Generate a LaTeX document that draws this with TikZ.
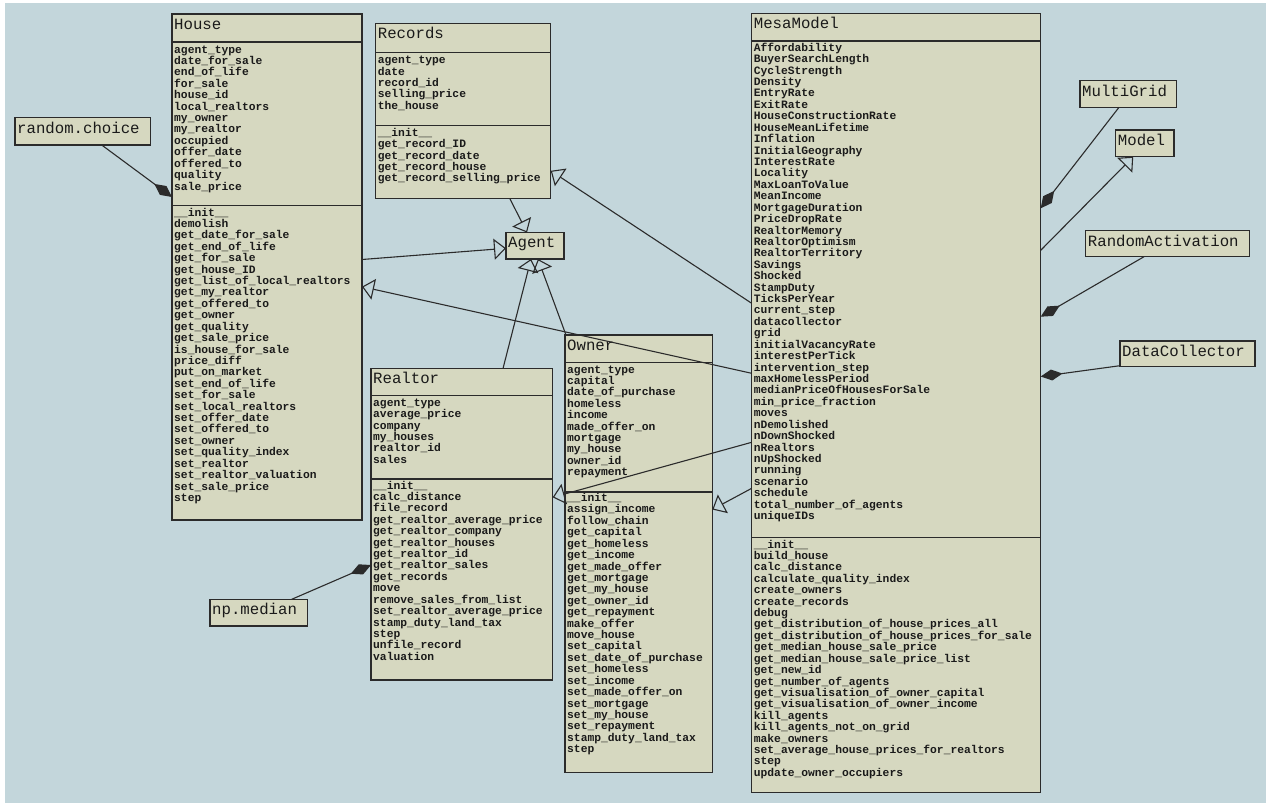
\documentclass[tikz,border=0pt]{standalone}
\usepackage{fontspec}
\setmonofont{Liberation Mono}
\usetikzlibrary{arrows.meta}
\definecolor{bgc}{HTML}{C3D6DB}
\definecolor{boxc}{HTML}{D6D8C0}
\definecolor{linec}{HTML}{2B2B2B}
\definecolor{txtc}{HTML}{1A1A1A}
\tikzset{
  cls/.style={draw=linec, fill=boxc, line width=1.2pt, inner sep=0pt, outer sep=0pt, anchor=north west},
  ttl/.style={anchor=base west, inner sep=0pt, font=\fontsize{15.7}{16}\selectfont\ttfamily, text=txtc},
  mem/.style={anchor=base west, inner sep=0pt, font=\fontsize{11.3}{11.4}\selectfont\ttfamily\bfseries, text=txtc},
  sepline/.style={draw=linec, line width=1.2pt},
  inh/.style={draw=linec, line width=1.1pt, -{Triangle[open,length=12pt,width=21pt,line width=1.1pt]}},
  comp/.style={draw=linec, line width=1.1pt, -{Diamond[length=22pt,width=11pt]}},
}
% #1 name, #2 x, #3 y, #4 w, #5 h, #6 title, #7 header line y, #8 separator y
\newcommand\classbox[8]{%
  \node[cls, minimum width=#4pt, minimum height=#5pt] (#1) at (#2,#3) {};
  \draw[sepline] (#1.west |- 0,#7) -- (#1.east |- 0,#7);
  \draw[sepline] (#1.west |- 0,#8) -- (#1.east |- 0,#8);
  \node[ttl] (#1-title) at (#2+2,#3+15.3) {#6};
}
% #1 name, #2 x, #3 y, #4 w, #5 h, #6 label
\newcommand\smallbox[6]{%
  \node[cls, minimum width=#4pt, minimum height=#5pt] (#1) at (#2,#3) {};
  \node[ttl] (#1-label) at (#2+2,#3+15.3) {#6};
}
% #1 prefix, #2 x, #3 first row centre y, #4 list
\newcommand\memrows[4]{%
  \foreach \t [count=\i from 0] in {#4} {\node[mem] (#1\i) at (#2+2, #3+\i*11.42+3) {\t};}
}
\begin{document}
\begin{tikzpicture}[x=1pt,y=-1pt]
\useasboundingbox (0,0) rectangle (1266,803);
\fill[white] (0,0) rectangle (1266,803);
\fill[bgc] (5,3) rectangle (1266,803);

% House
\classbox{house}{172}{14}{190}{506}{House}{42}{205.5}
\memrows{ha}{172}{50}{agent\_type,date\_for\_sale,end\_of\_life,for\_sale,house\_id,local\_realtors,my\_owner,my\_realtor,occupied,offer\_date,offered\_to,quality,sale\_price}
\memrows{hm}{172}{213}{\_\_init\_\_,demolish,get\_date\_for\_sale,get\_end\_of\_life,get\_for\_sale,get\_house\_ID,get\_list\_of\_local\_realtors,get\_my\_realtor,get\_offered\_to,get\_owner,get\_quality,get\_sale\_price,is\_house\_for\_sale,price\_diff,put\_on\_market,set\_end\_of\_life,set\_for\_sale,set\_local\_realtors,set\_offer\_date,set\_offered\_to,set\_owner,set\_quality\_index,set\_realtor,set\_realtor\_valuation,set\_sale\_price,step}

% Records
\classbox{records}{375.7}{23.3}{175}{175}{Records}{52.3}{125.7}
\memrows{ra}{375.7}{60.7}{agent\_type,date,record\_id,selling\_price,the\_house}
\memrows{rm}{375.7}{133.3}{\_\_init\_\_,get\_record\_ID,get\_record\_date,get\_record\_house,get\_record\_selling\_price}

% Realtor
\classbox{realtor}{371}{368.5}{181.7}{311.5}{Realtor}{395.7}{479}
\memrows{la}{371}{403.3}{agent\_type,average\_price,company,my\_houses,realtor\_id,sales}
\memrows{lm}{371}{486}{\_\_init\_\_,calc\_distance,file\_record,get\_realtor\_average\_price,get\_realtor\_company,get\_realtor\_houses,get\_realtor\_id,get\_realtor\_sales,get\_records,move,remove\_sales\_from\_list,set\_realtor\_average\_price,stamp\_duty\_land\_tax,step,unfile\_record,valuation}

% Owner
\classbox{owner}{565}{335}{147.3}{437.3}{Owner}{362.3}{492}
\memrows{oa}{565}{370}{agent\_type,capital,date\_of\_purchase,homeless,income,made\_offer\_on,mortgage,my\_house,owner\_id,repayment}
\memrows{om}{565}{498.5}{\_\_init\_\_,assign\_income,follow\_chain,get\_capital,get\_homeless,get\_income,get\_made\_offer,get\_mortgage,get\_my\_house,get\_owner\_id,get\_repayment,make\_offer,move\_house,set\_capital,set\_date\_of\_purchase,set\_homeless,set\_income,set\_made\_offer\_on,set\_mortgage,set\_my\_house,set\_repayment,stamp\_duty\_land\_tax,step}

% MesaModel
\classbox{mesa}{751.7}{13.3}{289}{779}{MesaModel}{41}{537.5}
\memrows{ma}{751.7}{48.3}{Affordability,BuyerSearchLength,CycleStrength,Density,EntryRate,ExitRate,HouseConstructionRate,HouseMeanLifetime,Inflation,InitialGeography,InterestRate,Locality,MaxLoanToValue,MeanIncome,MortgageDuration,PriceDropRate,RealtorMemory,RealtorOptimism,RealtorTerritory,Savings,Shocked,StampDuty,TicksPerYear,current\_step,datacollector,grid,initialVacancyRate,interestPerTick,intervention\_step,maxHomelessPeriod,medianPriceOfHousesForSale,min\_price\_fraction,moves,nDemolished,nDownShocked,nRealtors,nUpShocked,running,scenario,schedule,total\_number\_of\_agents,uniqueIDs}
\memrows{mm}{751.7}{545}{\_\_init\_\_,build\_house,calc\_distance,calculate\_quality\_index,create\_owners,create\_records,debug,get\_distribution\_of\_house\_prices\_all,get\_distribution\_of\_house\_prices\_for\_sale,get\_median\_house\_sale\_price,get\_median\_house\_sale\_price\_list,get\_new\_id,get\_number\_of\_agents,get\_visualisation\_of\_owner\_capital,get\_visualisation\_of\_owner\_income,kill\_agents,kill\_agents\_not\_on\_grid,make\_owners,set\_average\_house\_prices\_for\_realtors,step,update\_owner\_occupiers}

% small boxes
\smallbox{agent}{506}{232.5}{58}{26.5}{Agent}
\smallbox{rchoice}{15}{117.7}{135.7}{27.3}{random.choice}
\smallbox{npmedian}{210}{599.3}{97.7}{26.7}{np.median}
\smallbox{multigrid}{1080}{80.7}{96.7}{26.6}{MultiGrid}
\smallbox{model}{1115.7}{130}{58.3}{26.7}{Model}
\smallbox{rndact}{1085.7}{230.7}{163.6}{26}{RandomActivation}
\smallbox{datacoll}{1120}{341}{135}{25.7}{DataCollector}

% compositions
\draw[comp] ([shift={(86.7,0)}]rchoice.south west) -- ([shift={(0,183)}]house.north west);
\draw[comp] ([shift={(81.7,0)}]npmedian.north west) -- ([shift={(0,196.5)}]realtor.north west);
\draw[comp] ([shift={(39,0)}]multigrid.south west) -- ([shift={(0,195)}]mesa.north east);
\draw[comp] ([shift={(58.3,0)}]rndact.south west) -- ([shift={(0,303.4)}]mesa.north east);
\draw[comp] ([shift={(0,-1)}]datacoll.south west) -- ([shift={(0,363.2)}]mesa.north east);

% generalisations
\draw[inh] ([shift={(0,237)}]mesa.north east) -- ([shift={(17.5,0)}]model.south west);
\draw[inh] ([shift={(134,0)}]records.south west) -- ([shift={(21,0)}]agent.north west);
\draw[inh] ([shift={(0,245.5)}]house.north east) -- ([shift={(0,15.8)}]agent.north west);
\draw[inh] ([shift={(132,0)}]realtor.north west) -- ([shift={(25,0)}]agent.south west);
\draw[inh] ([shift={(1,0)}]owner.north west) -- ([shift={(32,0)}]agent.south west);
\draw[inh] ([shift={(0,290)}]mesa.north west) -- ([shift={(0,147.5)}]records.north east);
\draw[inh] ([shift={(0,360)}]mesa.north west) -- ([shift={(0,272.7)}]house.north east);
\draw[inh] ([shift={(0,429)}]mesa.north west) -- ([shift={(0,128.8)}]realtor.north east);
\draw[inh] ([shift={(0,475)}]mesa.north west) -- ([shift={(0,174.5)}]owner.north east);
\end{tikzpicture}
\end{document}
